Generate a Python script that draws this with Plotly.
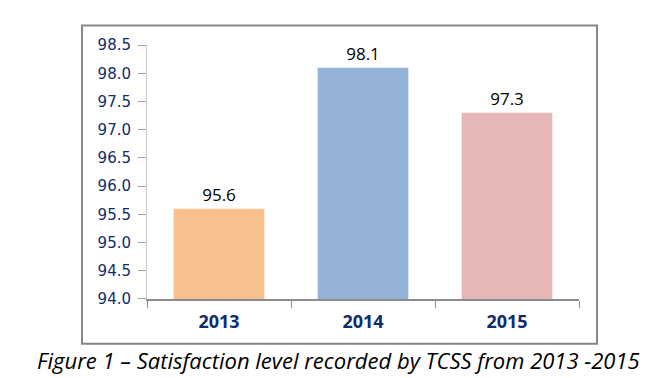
import plotly.graph_objects as go

years = ["2013", "2014", "2015"]
satisfaction = [95.6, 98.1, 97.3]
bar_colors = ["#F9C08F", "#95B3D7", "#E5B8B7"]
y_ticks = [94.0, 94.5, 95.0, 95.5, 96.0, 96.5, 97.0, 97.5, 98.0, 98.5]
caption = "Figure 1 – Satisfaction level recorded by TCSS from 2013 -2015"

W, H = 660, 378

def px(x):
    return x / W

def py(y):
    return (H - y) / H

fig = go.Figure(
    go.Bar(
        x=years,
        y=satisfaction,
        marker=dict(color=bar_colors, line=dict(width=0)),
        width=0.63,
        text=[f"{v:.1f}" for v in satisfaction],
        textposition="outside",
        textfont=dict(family="Open Sans", size=17, color="#000000"),
        cliponaxis=False,
    )
)

fig.update_layout(
    width=W,
    height=H,
    margin=dict(l=0, r=0, t=0, b=0),
    paper_bgcolor="white",
    plot_bgcolor="white",
    showlegend=False,
    xaxis=dict(
        domain=[px(139), px(571)],
        showgrid=False,
        showline=True,
        linecolor="#8C8C8C",
        linewidth=1.5,
        ticks="outside",
        tickson="boundaries",
        ticklen=7,
        tickcolor="#8C8C8C",
        tickfont=dict(family="Open Sans", size=18, color="#0F2D69", weight="bold"),
        ticklabelstandoff=6,
    ),
    yaxis=dict(
        domain=[py(296), py(29.5)],
        range=[94.0, 98.5],
        tickvals=y_ticks,
        ticktext=[f"{v:.1f}" for v in y_ticks],
        showgrid=False,
        zeroline=False,
        showline=True,
        linecolor="#C8C8C8",
        linewidth=1,
        ticks="outside",
        ticklen=8,
        tickcolor="#A0A0A0",
        tickfont=dict(family="DejaVu Sans", size=15, color="#0F2D69"),
        ticklabelstandoff=4,
    ),
    shapes=[
        dict(
            type="rect", xref="paper", yref="paper",
            x0=px(74), x1=px(589), y0=py(343), y1=py(9),
            line=dict(color="#878787", width=2),
            fillcolor="rgba(0,0,0,0)",
        )
    ],
    annotations=[
        dict(
            text=f"<i>{caption}</i>",
            xref="paper", yref="paper",
            x=px(331), y=py(360),
            xanchor="center", yanchor="middle",
            showarrow=False,
            font=dict(family="Open Sans", size=22, color="#000000"),
        )
    ],
)

fig.write_html("out.html")
